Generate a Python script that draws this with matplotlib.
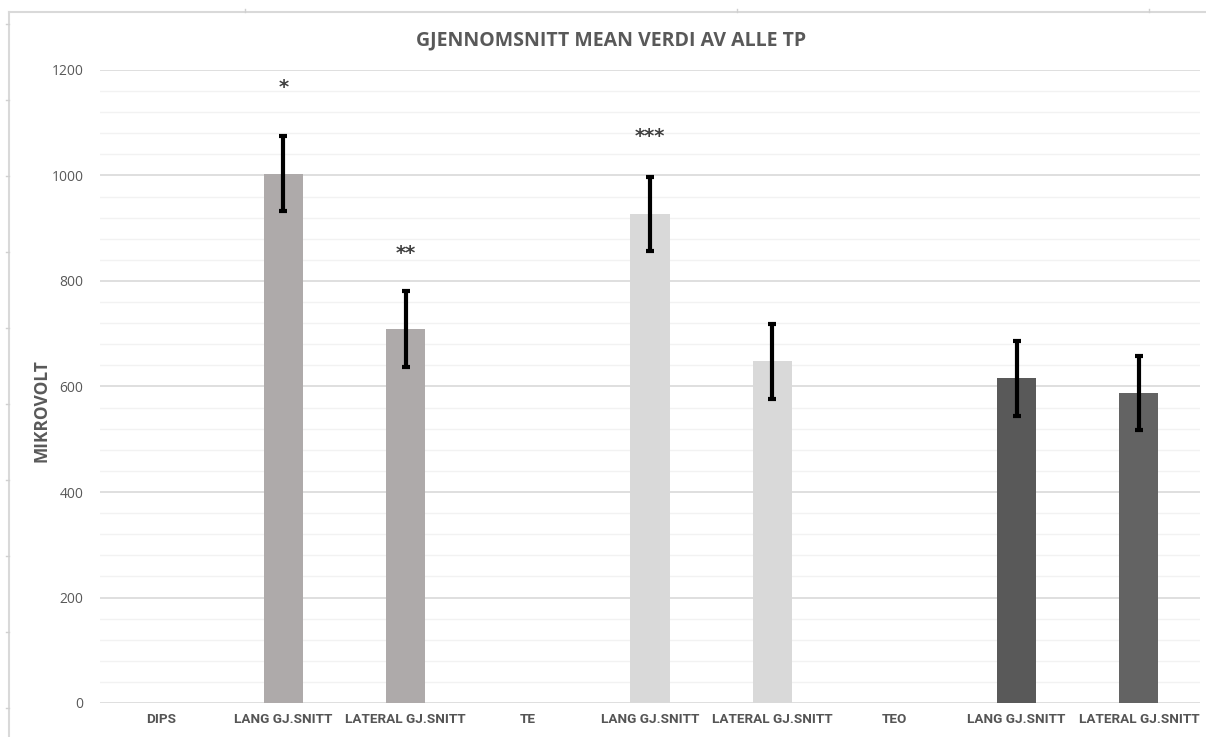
import matplotlib.pyplot as plt
import numpy as np
from matplotlib.lines import Line2D

categories = ['DIPS', 'LANG GJ.SNITT', 'LATERAL GJ.SNITT',
              'TE', 'LANG GJ.SNITT', 'LATERAL GJ.SNITT',
              'TEO', 'LANG GJ.SNITT', 'LATERAL GJ.SNITT']
means = [np.nan, 1003, 709, np.nan, 927, 648, np.nan, 616, 588]
errors = [0, 71, 72, 0, 71, 71, 0, 71, 70]
colors = ['white', '#aeaaaa', '#aeaaaa', 'white', '#d9d9d9', '#d9d9d9',
          'white', '#595959', '#636363']
stars = {1: '*', 2: '**', 4: '***'}
star_y = {1: 1166, 2: 853, 4: 1073}

fig = plt.figure(figsize=(12.06, 7.37), dpi=100)
ax = fig.add_axes([100 / 1206, 1 - 703 / 737, 1100 / 1206, 633 / 737])

x = np.arange(len(categories))
heights = [0 if np.isnan(m) else m for m in means]
ax.bar(x, heights, width=0.32, color=colors, zorder=3)
for i, (m, e) in enumerate(zip(means, errors)):
    if np.isnan(m):
        continue
    ax.errorbar(x[i], m, yerr=e, fmt='none', ecolor='black', elinewidth=3,
                capsize=3, capthick=3, zorder=4)
    if i in stars:
        ax.text(x[i], star_y[i], stars[i], ha='center', va='center',
                fontsize=14, fontweight='bold', color='#404040', zorder=5)

ax.set_xlim(-0.5, len(categories) - 0.5)
ax.set_ylim(0, 1200)
ax.set_yticks(np.arange(0, 1201, 200))
ax.set_yticks(np.arange(0, 1201, 40), minor=True)
ax.grid(axis='y', which='major', color='#d9d9d9', linewidth=1.2, zorder=0)
ax.grid(axis='y', which='minor', color='#f2f2f2', linewidth=1.0, zorder=0)
for s in ax.spines.values():
    s.set_visible(False)
ax.tick_params(axis='both', which='both', length=0)
ax.tick_params(axis='y', pad=12, labelsize=10, labelcolor='#595959')
ax.tick_params(axis='x', pad=7)
ax.set_xticks(x)
ax.set_xticklabels(categories, fontsize=9.7, fontweight='bold', color='#555555',
                   family=['Roboto', 'DejaVu Sans'])
for lbl in ax.get_yticklabels():
    lbl.set_family(['Open Sans', 'DejaVu Sans'])

ax.set_ylabel('MIKROVOLT', fontsize=12.5, fontweight='bold', color='#595959',
              family=['Open Sans', 'DejaVu Sans'])
ax.yaxis.set_label_coords((51 - 100) / 1100, (703 - 411) / 633)
fig.text(611 / 1206, 1 - 40 / 737, 'GJENNOMSNITT MEAN VERDI AV ALLE TP',
         ha='center', va='center', fontsize=14, fontweight='bold',
         color='#595959', family=['Open Sans', 'DejaVu Sans'])

# outer chart frame (left and top edges) with small ruler marks
fw, fh = 1206, 737
fig.add_artist(Line2D([9 / fw, 9 / fw], [0, 1 - 12 / fh], color='#d9d9d9', lw=1.5))
fig.add_artist(Line2D([9 / fw, 1], [1 - 12 / fh, 1 - 12 / fh], color='#d9d9d9', lw=1.5))
for py in np.arange(24, 737, 76):
    fig.add_artist(Line2D([6 / fw, 9 / fw], [1 - py / fh] * 2, color='#d0d0d0', lw=1))
for px in [245, 737, 1149]:
    fig.add_artist(Line2D([px / fw] * 2, [1 - 9 / fh, 1 - 12 / fh], color='#d0d0d0', lw=1))

fig.savefig('out.png', dpi=100, facecolor='white')
